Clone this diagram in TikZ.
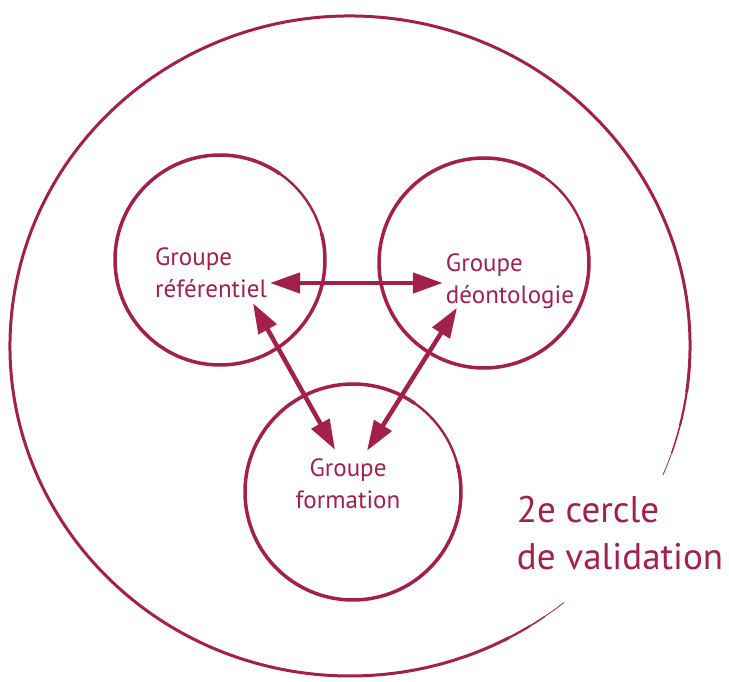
\documentclass[tikz,border=0pt]{standalone}
\usepackage{fontspec}
\setmainfont{PT Sans}
\usetikzlibrary{arrows.meta}
\definecolor{wine}{HTML}{A3204C}

\begin{document}
\begin{tikzpicture}[
            x=1pt, y=1pt,
            wine,
            ring/.style={line width=3.5pt},
            faint/.style={line width=#1},
            link/.style={line width=4.5pt, {Triangle[length=30pt,width=20pt]}-{Triangle[length=30pt,width=20pt]}},
            grouptext/.style={inner sep=3pt, font=\fontsize{25}{32}\selectfont},
            bigtext/.style={inner sep=3pt, font=\fontsize{37}{47}\selectfont}
        ]
            \useasboundingbox (0,0) rectangle (729,682);

            % outer circle, open at the lower right, thinning out at both ends
            \draw[line width=3pt] ([shift={(350,336)}]-8:340 and 330)
                arc[start angle=-8, end angle=298, x radius=340, y radius=330];
            \foreach \a/\b/\w in {-8/-14/2.2pt, -14/-19/1.5pt, -19/-23/0.8pt,
                                  298/302/2.2pt, 302/305/1.5pt, 305/309/0.8pt} {
                \draw[faint=\w] ([shift={(350,336)}]\a:340 and 330)
                    arc[start angle=\a, end angle=\b, x radius=340, y radius=330];
            }

            % the three groups
            \foreach \cx/\cy/\r in {220/422/105, 484/419/105, 353/190/108} {
                \draw[ring] ([shift={(\cx,\cy)}]55:\r) arc[start angle=55, end angle=375, radius=\r];
                \draw[faint=2.4pt] ([shift={(\cx,\cy)}]15:\r) arc[start angle=15, end angle=55, radius=\r];
            }

            \node[grouptext, align=left] (ref) at (211,409) {Groupe\\référentiel};
            \node[grouptext, align=left] (deon) at (510,401) {Groupe\\déontologie};
            \node[grouptext, align=center] (form) at (348,198) {Groupe\\formation};
            \node[bigtext, align=left] (valid) at (620,149) {2e cercle\\de validation};

            \draw[link] ([yshift=-10pt]ref.east) -- ([yshift=-2pt]deon.west);
            \draw[link] ([xshift=42pt,yshift=-2pt]ref.south) -- ([xshift=-13pt,yshift=6pt]form.north);
            \draw[link] ([xshift=-53pt,yshift=4pt]deon.south) -- ([xshift=19pt,yshift=5pt]form.north);
        \end{tikzpicture}
\end{document}
